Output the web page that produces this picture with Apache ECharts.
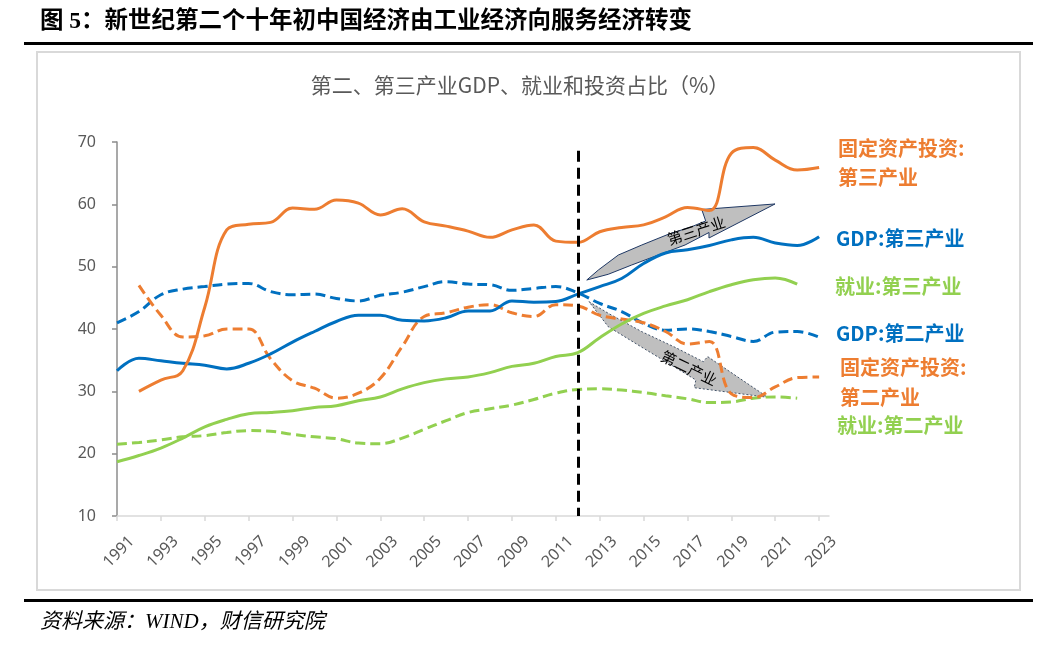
<!DOCTYPE html>
<html><head><meta charset="utf-8">
<script src="https://cdn.jsdelivr.net/npm/echarts@6/dist/echarts.min.js"></script>
<style>html,body{margin:0;padding:0;background:#fff}#c{width:1060px;height:648px}</style>
</head><body><div id="c"></div>
<script>
// ---------- data ----------
const years = [1991,1992,1993,1994,1995,1996,1997,1998,1999,2000,2001,2002,2003,2004,2005,2006,2007,2008,2009,2010,2011,2012,2013,2014,2015,2016,2017,2018,2019,2020,2021,2022,2023];
const xTickLabels = [1991,1993,1995,1997,1999,2001,2003,2005,2007,2009,2011,2013,2015,2017,2019,2021,2023];
// GDP: tertiary (solid blue)
const gdpTertiary = [33.3,35.3,34.9,34.5,34.2,33.6,34.5,36.0,37.9,39.6,41.2,42.2,42.2,41.4,41.3,41.8,42.9,42.9,44.5,44.3,44.4,45.6,46.8,48.1,50.5,52.2,52.7,53.4,54.3,54.7,53.8,53.4,54.8];
// GDP: secondary (dashed blue)
const gdpSecondary = [41.0,42.8,45.5,46.4,46.8,47.2,47.3,46.0,45.5,45.6,44.9,44.5,45.4,45.9,46.8,47.6,47.2,47.1,46.2,46.5,46.8,45.8,44.1,42.8,40.9,39.8,40.0,39.6,38.8,38.0,39.5,39.6,38.7];
// Fixed asset investment: tertiary (solid orange)
const faiTertiary = [null,30.0,31.8,33.3,43.5,55.9,56.8,57.1,59.4,59.2,60.7,60.2,58.3,59.3,57.2,56.5,55.7,54.7,55.9,56.7,54.1,53.9,55.6,56.3,56.7,58.0,59.5,59.0,68.2,69.1,67.1,65.5,65.9];
// Fixed asset investment: secondary (dashed orange)
const faiSecondary = [null,47.0,42.2,38.7,38.9,40.0,40.0,35.2,31.7,30.5,28.9,29.7,32.1,37.2,42.0,42.6,43.5,43.9,42.6,42.0,43.9,43.7,42.2,41.6,41.0,39.6,37.6,38.0,29.6,29.0,30.7,32.2,32.3];
// Employment: tertiary (solid green)
const empTertiary = [18.7,19.7,20.9,22.5,24.3,25.5,26.4,26.6,26.9,27.4,27.7,28.5,29.1,30.4,31.4,32.0,32.3,33.0,34.0,34.5,35.6,36.2,38.6,40.8,42.5,43.7,44.7,46.0,47.1,47.9,48.2,47.2,null];
// Employment: secondary (dashed green)
const empSecondary = [21.5,21.8,22.2,22.7,22.9,23.4,23.7,23.6,23.1,22.7,22.4,21.7,21.6,22.5,23.9,25.3,26.6,27.2,27.8,28.7,29.7,30.3,30.4,30.2,29.8,29.3,28.8,28.2,28.3,28.9,29.1,28.9,null];
const yTicks = [10,20,30,40,50,60,70];
const dividerYear = 2012;

// annotation arrows (in data coordinates: [year, %])
const arrowUp = [[2012.41,47.86],[2012.94,49.47],[2013.85,51.87],[2014.92,53.48],[2016.13,55.20],[2017.19,56.41],[2017.83,57.33],[2017.65,59.17],[2020.99,60.06],[2017.98,54.60],[2017.98,55.48],[2016.89,53.48],[2015.67,51.87],[2014.46,50.27],[2013.39,48.78]];
const arrowUpText = [2017.40, 55.80];
const arrowDown = [[2012.51,44.38],[2013.39,42.52],[2014.92,39.57],[2016.43,37.07],[2017.72,34.76],[2017.92,35.57],[2020.66,29.04],[2017.31,30.58],[2017.38,31.82],[2016.43,33.86],[2014.92,37.07],[2013.39,40.37]];
const arrowDownText = [2017.07, 33.72];

// ---------- chart ----------
const ORANGE = '#ED7D31', BLUE = '#0070C0', GREEN = '#92D050';
const pair = arr => years.map((y, i) => [y, arr[i]]);
const CJK = '"Noto Sans CJK SC", "Noto Sans", sans-serif';

const chart = echarts.init(document.getElementById('c'), null, {renderer: 'canvas'});

function lineSeries(name, arr, color, dashed, z) {
  return {
    name, type: 'line', data: pair(arr), smooth: 0.4, symbol: 'none', z: z,
    connectNulls: false,
    lineStyle: {color, width: 3, type: dashed ? [10, 5] : 'solid', cap: 'butt'},
    itemStyle: {color}
  };
}

const arrowTexts = ['第三产业', '第二产业'];
function renderArrows(params, api) {
  const up = params.dataIndex === 0;
  const poly = (up ? arrowUp : arrowDown).map(p => api.coord(p));
  const tp = api.coord(up ? arrowUpText : arrowDownText);
  return {
    type: 'group',
    children: [
      {type: 'polygon', shape: {points: poly},
       style: {fill: '#bfbfbf', stroke: up ? '#1f3864' : '#44546a', lineWidth: 1, lineDash: up ? null : [2, 2]}},
      {type: 'text', x: tp[0], y: tp[1], rotation: (up ? 18 : -26) * Math.PI / 180,
       style: {text: arrowTexts[up ? 0 : 1], fill: '#000', fontSize: 15, fontFamily: CJK, align: 'center', verticalAlign: 'middle'}}
    ]
  };
}

const sideLabels = [
  {t: '固定资产投资:', x: 838, y: 148, c: ORANGE},
  {t: '第三产业', x: 838, y: 177, c: ORANGE},
  {t: 'GDP:第三产业', x: 836, y: 238, c: BLUE},
  {t: '就业:第三产业', x: 835, y: 286, c: GREEN},
  {t: 'GDP:第二产业', x: 836, y: 333, c: BLUE},
  {t: '固定资产投资:', x: 840, y: 367, c: ORANGE},
  {t: '第二产业', x: 840, y: 397, c: ORANGE},
  {t: '就业:第二产业', x: 837, y: 425, c: GREEN}
];

const option = {
  backgroundColor: '#fff',
  animation: false,
  grid: {left: 117, top: 142, width: 712, height: 374, containLabel: false},
  xAxis: {
    type: 'value', min: 1991, max: 2023.45,
    axisLine: {show: true, lineStyle: {color: '#d9d9d9', width: 1.5}},
    axisTick: {show: true, customValues: xTickLabels, length: 5, lineStyle: {color: '#d9d9d9', width: 1.5}},
    splitLine: {show: false},
    axisLabel: {customValues: xTickLabels, rotate: 45, margin: 8, color: '#595959', fontSize: 16,
      fontFamily: '"Noto Sans", sans-serif', verticalAlign: 'top', padding: [13, 0, 0, 0], formatter: v => String(v)}
  },
  yAxis: {
    type: 'value', min: 10, max: 70, interval: 10,
    axisLine: {show: true, lineStyle: {color: '#8c8c8c', width: 1.5}},
    axisTick: {show: true, length: 5, lineStyle: {color: '#8c8c8c', width: 1.5}},
    splitLine: {show: false},
    axisLabel: {color: '#595959', fontSize: 16, margin: 21, fontFamily: '"Noto Sans", sans-serif'}
  },
  series: [
    {type: 'custom', coordinateSystem: 'cartesian2d', z: 1, silent: true,
     data: [[2017, 55], [2017, 33]], renderItem: renderArrows, clip: false},
    lineSeries('GDP:第二产业', gdpSecondary, BLUE, true, 3),
    lineSeries('就业:第二产业', empSecondary, GREEN, true, 3),
    lineSeries('固定资产投资:第二产业', faiSecondary, ORANGE, true, 3),
    lineSeries('就业:第三产业', empTertiary, GREEN, false, 4),
    lineSeries('GDP:第三产业', gdpTertiary, BLUE, false, 4),
    Object.assign(lineSeries('固定资产投资:第三产业', faiTertiary, ORANGE, false, 4), {
      markLine: {
        silent: true, symbol: ['none', 'none'], label: {show: false},
        lineStyle: {color: '#000', width: 3, type: [11, 6]},
        data: [[{coord: [dividerYear, 68.6]}, {coord: [dividerYear, 10]}]]
      }
    })
  ],
  graphic: [
    {type: 'text', x: 40, y: 22, style: {text: '图 5：新世纪第二个十年初中国经济由工业经济向服务经济转变',
      font: 'bold 23.5px "Liberation Serif", "Noto Sans CJK SC"', fill: '#000', verticalAlign: 'middle'}},
    {type: 'rect', shape: {x: 24, y: 42, width: 1009, height: 3}, style: {fill: '#000'}},
    {type: 'rect', shape: {x: 37, y: 52, width: 983, height: 538}, style: {fill: 'none', stroke: '#d9d9d9', lineWidth: 2}, z: -1},
    {type: 'text', x: 520, y: 85, style: {text: '第二、第三产业GDP、就业和投资占比（%）',
      fontSize: 21, fontFamily: CJK, fill: '#595959', align: 'center', verticalAlign: 'middle'}},
    {type: 'rect', shape: {x: 24, y: 599, width: 1009, height: 3}, style: {fill: '#000'}},
    {type: 'text', x: 40, y: 622, style: {text: '资料来源：WIND，财信研究院',
      font: 'italic 21px "Liberation Serif", "Noto Sans CJK SC"', fill: '#000', verticalAlign: 'middle'}}
  ].concat(sideLabels.map(l => ({
    type: 'text', x: l.x, y: l.y,
    style: {text: l.t, fill: l.c, fontSize: 20, fontWeight: 'bold', fontFamily: CJK, verticalAlign: 'middle'}
  })))
};
chart.setOption(option);
</script>
</body></html>
